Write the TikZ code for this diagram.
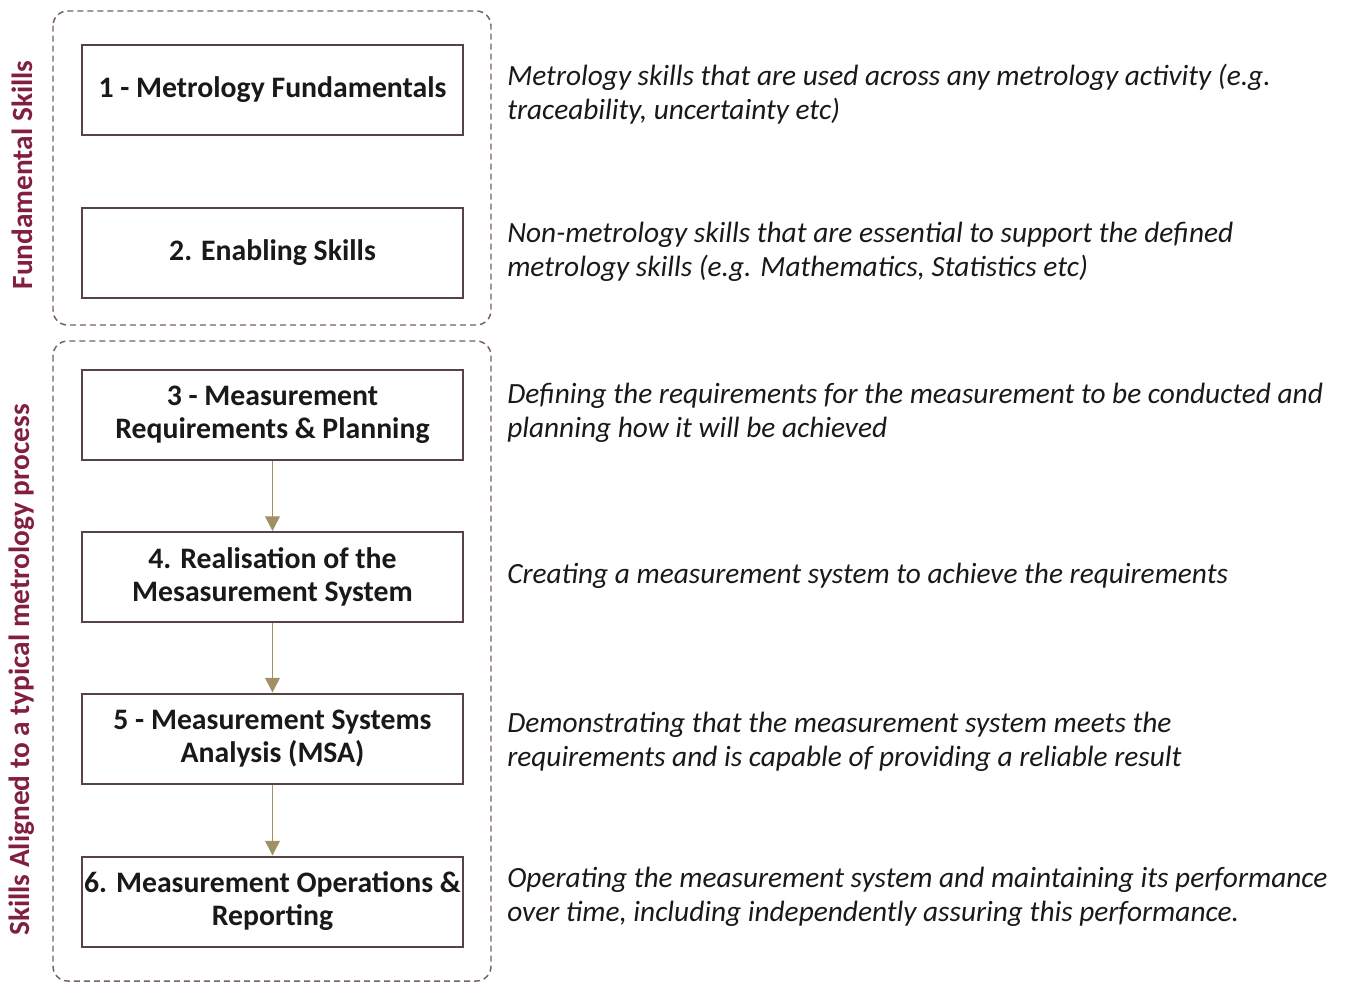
\documentclass[tikz,border=0pt]{standalone}
\usepackage{fontspec}
\setmainfont{Carlito}
\usetikzlibrary{arrows.meta}
\definecolor{boxline}{RGB}{88,66,74}
\definecolor{dashline}{RGB}{120,96,104}
\definecolor{arrowcol}{RGB}{160,145,100}
\definecolor{maroon}{RGB}{130,30,65}
\definecolor{txt}{RGB}{25,25,25}
\tikzset{
  skillbox/.style={draw=boxline, line width=1.5pt, fill=white, minimum width=381*0.75pt, minimum height=90*0.75pt, align=center, inner sep=0pt, font=\fontsize{22.3}{24.8}\selectfont\bfseries, text=txt},
  groupbox/.style={draw=dashline, line width=1.1pt, dash pattern=on 4.5pt off 3pt, rounded corners=11pt},
  desc/.style={anchor=west, align=left, inner sep=0pt, font=\fontsize{22}{25.5}\selectfont\itshape, text=txt},
  flow/.style={draw=arrowcol, line width=1.1pt, -{Triangle[length=11pt,width=11pt]}},
  sidelabel/.style={rotate=90, font=\fontsize{22}{24}\selectfont\bfseries, text=maroon, inner sep=0pt}
}
\begin{document}
\begin{tikzpicture}[x=0.75pt,y=-0.75pt]
\useasboundingbox (0,0) rectangle (1358,983);
\draw[groupbox] (53,11) rectangle (491,325);
\draw[groupbox] (53,341) rectangle (491,981);
\node[skillbox] (b1) at (272.5,89.5) {1 - Metrology Fundamentals};
\node[skillbox] (b2) at (272.5,252.5) {2. Enabling Skills};
\node[skillbox] (b3) at (272.5,414.5) {3 - Measurement\\Requirements \& Planning};
\node[skillbox] (b4) at (272.5,577) {4. Realisation of the\\Mesasurement System};
\node[skillbox] (b5) at (272.5,738.5) {5 - Measurement Systems\\Analysis (MSA)};
\node[skillbox] (b6) at (272.5,901.5) {6. Measurement Operations \&\\Reporting};
\draw[flow] (b3) -- (b4);
\draw[flow] (b4) -- (b5);
\draw[flow] (b5) -- (b6);
\node[sidelabel] (l1) at (22,175) {Fundamental Skills};
\node[sidelabel] (l2) at (22,670) {Skills Aligned to a typical metrology process};
\node[desc] (d1) at (507,94) {Metrology skills that are used across any metrology activity (e.g.\\traceability, uncertainty etc)};
\node[desc] (d2) at (507,251.5) {Non-metrology skills that are essential to support the defined\\metrology skills (e.g. Mathematics, Statistics etc)};
\node[desc] (d3) at (507,412.5) {Defining the requirements for the measurement to be conducted and\\planning how it will be achieved};
\node[desc] (d4) at (507,575.5) {Creating a measurement system to achieve the requirements};
\node[desc] (d5) at (507,741.5) {Demonstrating that the measurement system meets the\\requirements and is capable of providing a reliable result};
\node[desc] (d6) at (507,896.5) {Operating the measurement system and maintaining its performance\\over time, including independently assuring this performance.};
\end{tikzpicture}
\end{document}
